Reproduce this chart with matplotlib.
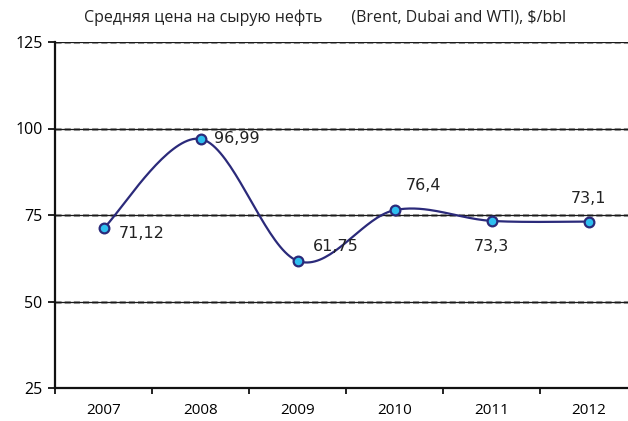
import numpy as np
import matplotlib
matplotlib.use("Agg")
import matplotlib.pyplot as plt

years = ["2007", "2008", "2009", "2010", "2011", "2012"]
prices = [71.12, 96.99, 61.75, 76.4, 73.3, 73.1]
labels = ["71,12", "96,99", "61,75", "76,4", "73,3", "73,1"]
yticks = [25, 50, 75, 100, 125]
title = "Средняя цена на сырую нефть       (Brent, Dubai and WTI), $/bbl"

LINE = "#2B2A7A"
FACE = "#2EBFF0"


def catmull_rom(x, y, n=40, tension=0.5):
    x = np.asarray(x, float); y = np.asarray(y, float)
    px = np.concatenate([[x[0]], x, [x[-1]]])
    py = np.concatenate([[y[0]], y, [y[-1]]])
    xs, ys = [], []
    for i in range(1, len(px) - 2):
        p0, p1, p2, p3 = [np.array([px[j], py[j]]) for j in (i - 1, i, i + 1, i + 2)]
        m1 = tension * (p2 - p0)
        m2 = tension * (p3 - p1)
        t = np.linspace(0, 1, n)[:, None]
        h00 = 2 * t**3 - 3 * t**2 + 1
        h10 = t**3 - 2 * t**2 + t
        h01 = -2 * t**3 + 3 * t**2
        h11 = t**3 - t**2
        pts = h00 * p1 + h10 * m1 + h01 * p2 + h11 * m2
        xs.append(pts[:, 0]); ys.append(pts[:, 1])
    return np.concatenate(xs), np.concatenate(ys)


fig = plt.figure(figsize=(6.28, 4.21), dpi=100)
W, H = 628, 421
left, right, top, bottom = 55, 637, 42, 388
ax = fig.add_axes([left / W, 1 - bottom / H, (right - left) / W, (bottom - top) / H])

x = np.arange(len(years))
ax.set_xlim(-0.5, len(years) - 0.5)
ax.set_ylim(25, 125)

for v in yticks[1:]:
    ax.axhline(v, color="#9a9a9a", lw=2.2, ls=(0, (2, 1)), zorder=1)
    ax.axhline(v, color="#1a1a1a", lw=0.9, zorder=1.1)

sx, sy = catmull_rom(x, prices)
ax.plot(sx, sy, color=LINE, lw=1.6, zorder=3, solid_capstyle="round")
ax.plot(x, prices, ls="none", marker="o", ms=7, mfc=FACE, mec=LINE, mew=1.6, zorder=4)

offsets = [(11, -4, "left", "center"), (10, 0, "left", "center"), (11, 10, "left", "center"),
           (8, 18, "left", "center"), (0, -13, "center", "top"), (0, 11, "center", "bottom")]
for xi, yi, lab, (dx, dy, ha, va) in zip(x, prices, labels, offsets):
    ax.annotate(lab, (xi, yi), xytext=(dx, dy), textcoords="offset points",
                ha=ha, va=va, fontsize=11.5, family="DejaVu Sans", color="#222222", zorder=5)

ax.set_yticks(yticks)
ax.set_yticklabels([str(v) for v in yticks], family="Open Sans", fontsize=11.5)
ax.set_xticks(np.arange(-0.5, len(years) + 0.5, 1), minor=False)
ax.set_xticklabels([])
ax.set_xticks(x, minor=True)
ax.set_xticklabels(years, minor=True, family="Open Sans", fontsize=11)
ax.tick_params(axis="x", which="major", length=4, width=1.3, direction="out", color="#111")
ax.tick_params(axis="x", which="minor", length=0, pad=11)
ax.tick_params(axis="y", length=5, width=1.3, direction="out", color="#111", pad=4)

for s in ("top", "right"):
    ax.spines[s].set_visible(False)
for s in ("left", "bottom"):
    ax.spines[s].set_linewidth(1.6)
    ax.spines[s].set_color("#111111")

fig.text(325 / W, 1 - 18 / H, title, ha="center", va="center", family="Open Sans", fontsize=11.5,
         color="#222222")

fig.savefig("out.png", dpi=100)
